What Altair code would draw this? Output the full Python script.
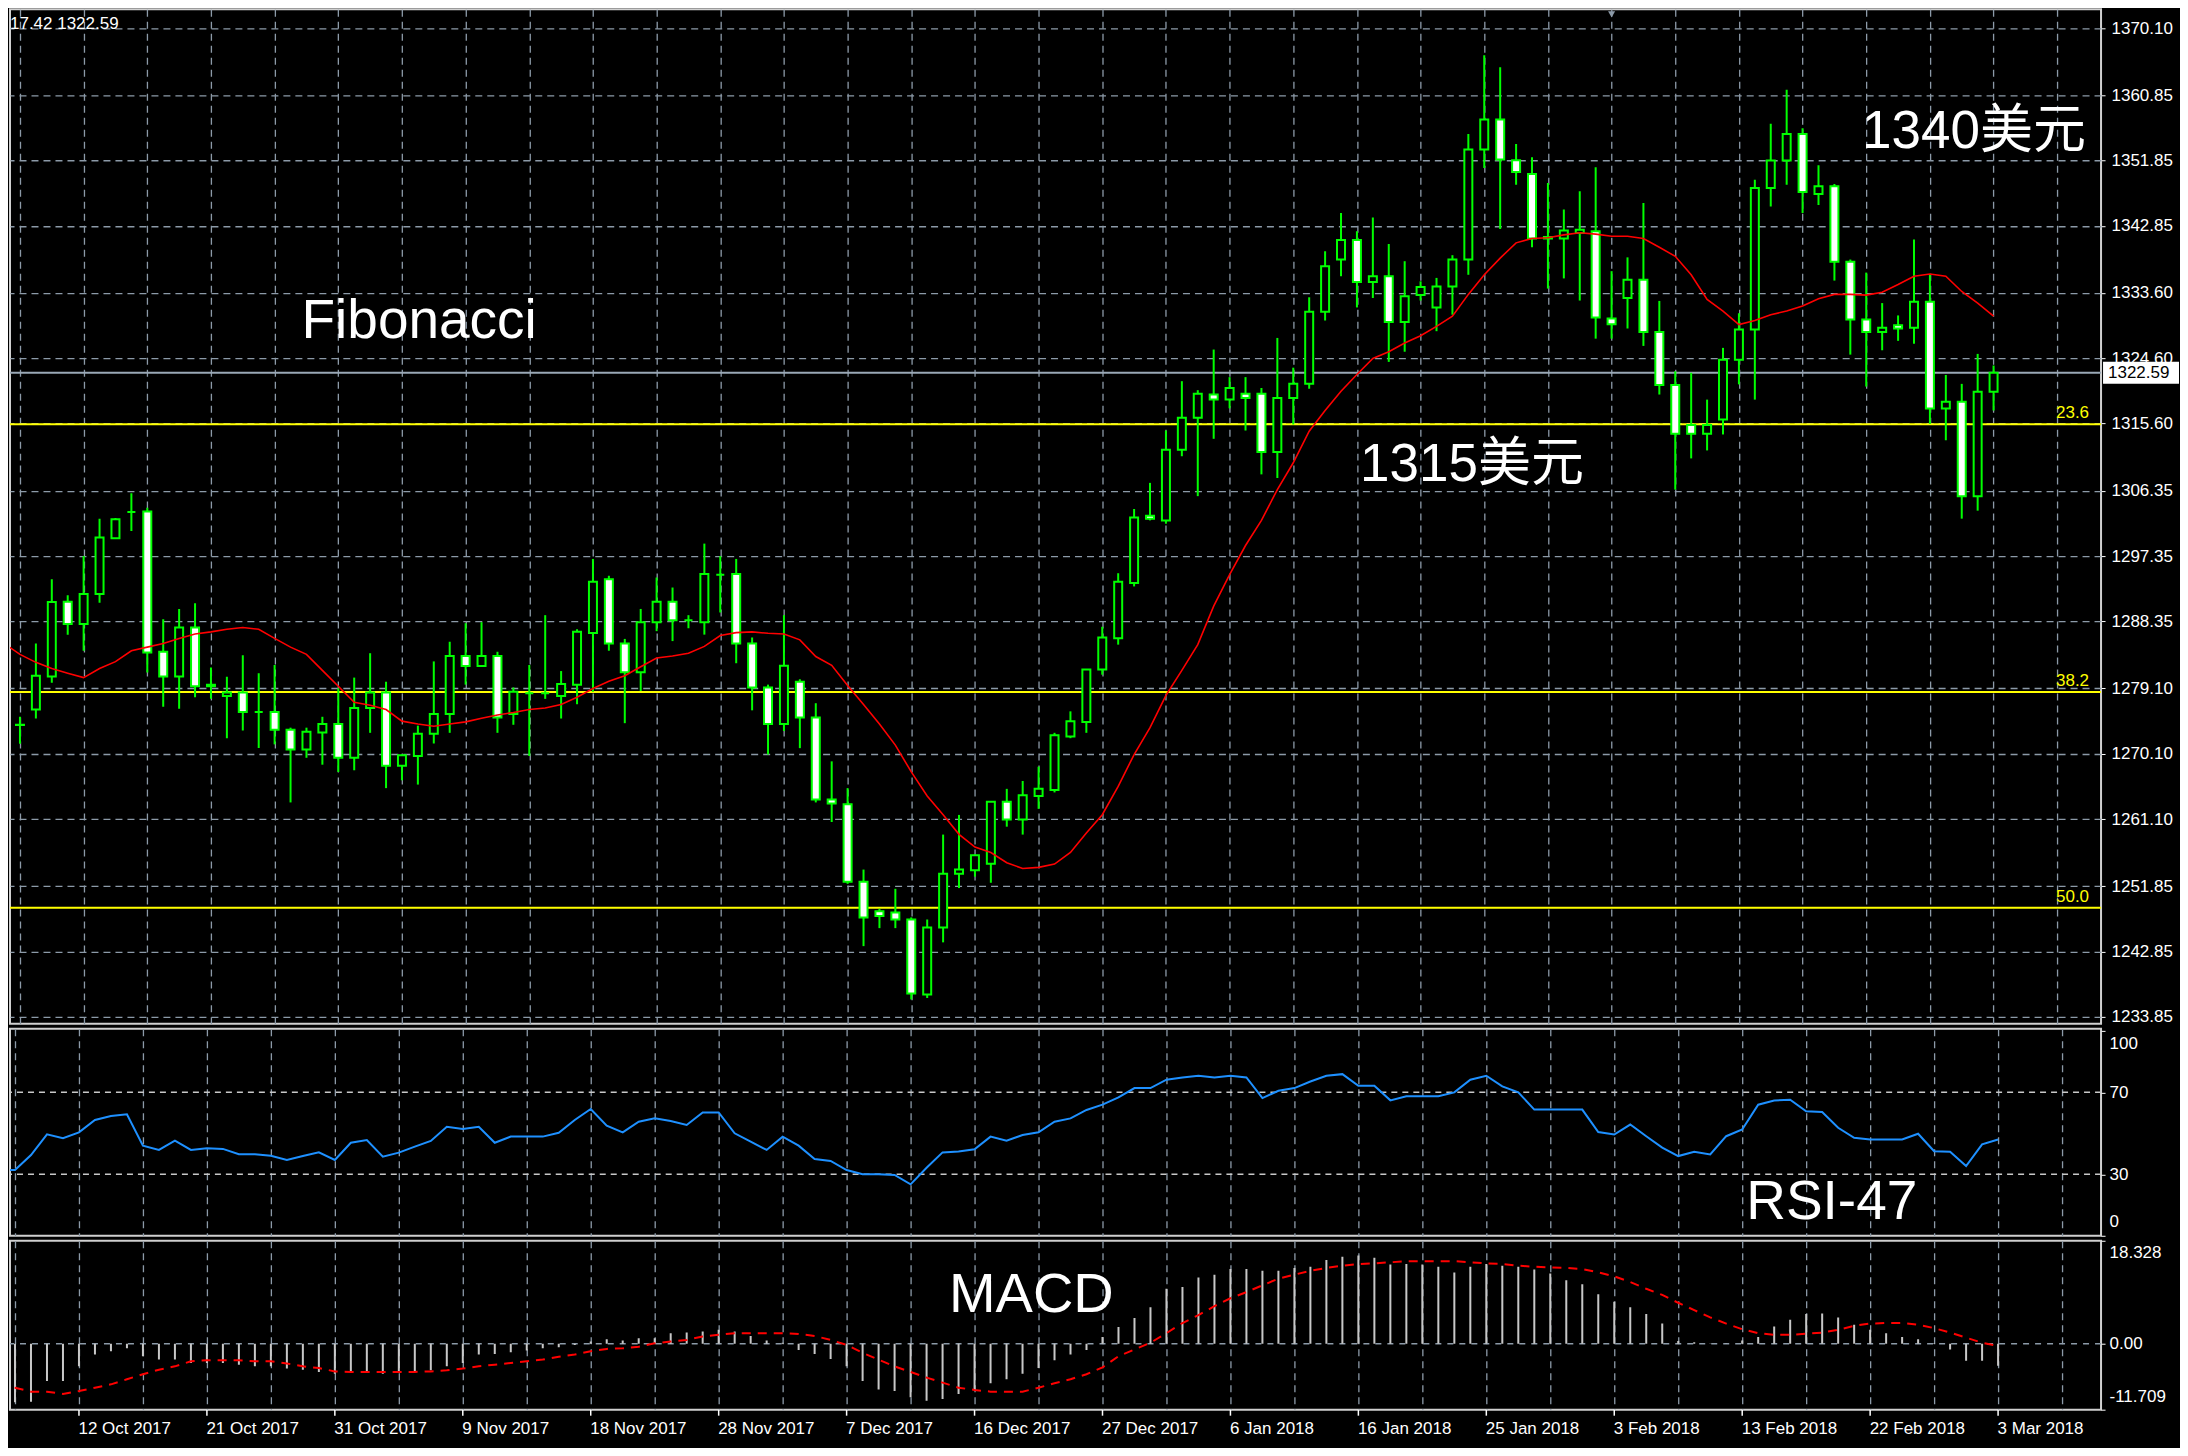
import json
import altair as alt
import pandas as pd

# ---------------- data ----------------
opens = [
    1274.07, 1276.2, 1280.76, 1291.04, 1288.0, 1292.13, 1299.8, 1303.4, 1303.5, 1284.16,
    1280.76, 1287.5, 1279.4, 1278.06, 1278.55, 1275.85, 1275.85, 1273.4, 1270.68, 1273.04,
    1274.2, 1269.55, 1276.4, 1278.55, 1268.47, 1269.8, 1272.85, 1275.6, 1283.57, 1282.2,
    1283.57, 1275.6, 1278.45, 1278.45, 1278.06, 1279.63, 1286.76, 1294.14, 1285.29, 1281.35,
    1288.24, 1291.04, 1288.49, 1288.24, 1294.78, 1294.88, 1285.29, 1279.24, 1274.22, 1280.03,
    1275.11, 1263.8, 1263.15, 1252.48, 1248.4, 1248.25, 1247.27, 1236.94, 1246.18, 1253.56,
    1254.05, 1254.94, 1263.5, 1261.04, 1264.29, 1265.12, 1272.5, 1274.47, 1281.7, 1286.03,
    1293.65, 1302.9, 1302.26, 1312.0, 1316.4, 1319.6, 1318.9, 1319.7, 1319.7, 1311.7,
    1319.14, 1321.07, 1331.0, 1338.2, 1340.9, 1335.1, 1335.9, 1329.6, 1333.3, 1331.6,
    1334.5, 1338.2, 1353.35, 1357.5, 1351.88, 1350.0, 1341.3, 1341.1, 1341.87, 1342.1,
    1330.07, 1332.9, 1335.4, 1328.2, 1320.9, 1315.4, 1314.2, 1316.16, 1324.4, 1328.55,
    1348.07, 1351.83, 1355.5, 1347.24, 1348.3, 1337.9, 1329.93, 1328.2, 1329.15, 1328.8,
    1332.37, 1317.67, 1318.6, 1305.6, 1319.97,
]
highs = [
    1275.2, 1285.3, 1294.14, 1291.93, 1297.34, 1302.5, 1302.6, 1306.0, 1304.0, 1288.63,
    1290.06, 1290.85, 1282.0, 1280.7, 1283.67, 1281.2, 1282.34, 1273.7, 1273.7, 1275.2,
    1279.14, 1280.6, 1283.96, 1280.03, 1270.0, 1273.98, 1282.83, 1285.54, 1288.09, 1288.24,
    1284.16, 1279.24, 1282.34, 1289.2, 1281.5, 1287.26, 1296.95, 1294.63, 1285.93, 1290.06,
    1294.39, 1293.01, 1289.2, 1299.06, 1297.34, 1296.95, 1286.13, 1279.63, 1289.2, 1280.37,
    1277.07, 1269.06, 1265.37, 1254.15, 1248.74, 1251.5, 1247.56, 1247.27, 1258.97, 1261.68,
    1256.2, 1263.5, 1265.27, 1266.35, 1268.32, 1272.99, 1275.95, 1281.7, 1287.6, 1294.98,
    1303.83, 1307.43, 1314.64, 1321.44, 1320.2, 1325.8, 1322.0, 1322.0, 1320.5, 1327.4,
    1323.3, 1333.0, 1339.35, 1344.6, 1342.1, 1344.0, 1340.35, 1337.97, 1335.2, 1335.67,
    1338.8, 1355.5, 1366.34, 1364.7, 1354.13, 1352.3, 1348.76, 1345.1, 1347.6, 1350.9,
    1336.6, 1338.5, 1346.0, 1332.5, 1322.8, 1322.6, 1318.9, 1326.03, 1330.8, 1349.2,
    1356.9, 1361.6, 1356.3, 1351.2, 1348.6, 1338.2, 1336.4, 1332.2, 1330.5, 1340.95,
    1336.1, 1322.3, 1321.07, 1325.2, 1323.6,
]
lows = [
    1271.5, 1274.96, 1279.9, 1286.52, 1284.3, 1290.9, 1299.7, 1300.8, 1281.3, 1276.58,
    1276.3, 1277.9, 1277.67, 1272.25, 1273.3, 1270.9, 1271.4, 1263.4, 1269.55, 1268.6,
    1267.6, 1267.83, 1272.99, 1265.37, 1266.45, 1265.86, 1271.52, 1272.99, 1279.63, 1282.1,
    1272.99, 1274.1, 1269.8, 1277.67, 1274.96, 1276.93, 1278.65, 1284.3, 1274.32, 1278.75,
    1287.0, 1285.63, 1287.4, 1286.52, 1289.57, 1282.58, 1276.09, 1270.0, 1273.24, 1270.88,
    1263.4, 1260.7, 1252.18, 1243.6, 1246.08, 1246.08, 1236.25, 1236.45, 1244.12, 1251.6,
    1253.17, 1252.33, 1260.06, 1258.97, 1262.52, 1264.78, 1272.25, 1272.99, 1281.0, 1285.14,
    1293.16, 1302.26, 1301.8, 1311.1, 1305.6, 1313.5, 1317.7, 1314.64, 1308.6, 1308.1,
    1315.47, 1320.4, 1329.8, 1335.9, 1331.6, 1332.9, 1324.1, 1325.5, 1332.55, 1328.33,
    1330.6, 1336.1, 1350.8, 1342.4, 1348.5, 1339.9, 1334.2, 1335.6, 1332.55, 1327.3,
    1327.3, 1328.7, 1326.3, 1319.6, 1306.5, 1310.8, 1311.9, 1314.1, 1321.0, 1318.9,
    1345.5, 1348.5, 1344.6, 1345.7, 1335.3, 1325.1, 1320.7, 1325.7, 1327.0, 1326.6,
    1315.56, 1313.3, 1302.5, 1303.6, 1317.4,
]
closes = [
    1274.1, 1280.86, 1291.0, 1288.0, 1292.13, 1299.9, 1302.4, 1303.4, 1284.06, 1280.76,
    1287.5, 1279.4, 1279.6, 1278.55, 1275.85, 1275.85, 1273.4, 1270.68, 1273.14, 1274.2,
    1269.55, 1276.4, 1278.55, 1268.47, 1269.9, 1272.85, 1275.6, 1283.57, 1282.2, 1283.57,
    1275.11, 1278.65, 1278.45, 1278.45, 1279.73, 1286.91, 1293.8, 1285.29, 1281.35, 1288.24,
    1291.04, 1288.49, 1288.49, 1294.88, 1294.78, 1285.29, 1279.24, 1274.22, 1282.24, 1275.11,
    1263.8, 1263.25, 1252.48, 1247.56, 1247.76, 1247.27, 1237.08, 1246.18, 1253.56, 1254.15,
    1256.12, 1263.5, 1261.04, 1264.39, 1265.27, 1272.65, 1274.57, 1281.7, 1286.13, 1293.8,
    1302.65, 1302.5, 1312.0, 1316.4, 1319.7, 1318.9, 1320.5, 1319.14, 1311.7, 1319.14,
    1321.07, 1331.0, 1337.28, 1340.9, 1335.1, 1335.9, 1329.6, 1333.15, 1334.4, 1334.5,
    1338.2, 1353.35, 1357.5, 1351.97, 1350.27, 1341.1, 1341.1, 1342.2, 1342.3, 1330.2,
    1329.3, 1335.4, 1328.2, 1320.9, 1314.2, 1314.2, 1315.4, 1324.4, 1328.55, 1348.07,
    1351.83, 1355.5, 1347.5, 1348.3, 1337.9, 1329.93, 1328.2, 1328.8, 1328.7, 1332.37,
    1317.67, 1318.6, 1305.6, 1319.97, 1322.59,
]
# indicator series start one bar before the first full candle (bar -1)
ma_values = [
    1285.3,
    1283.8, 1282.7, 1281.85, 1281.2, 1280.6, 1281.85, 1282.8, 1284.3, 1284.8, 1285.3,
    1286.0, 1286.6, 1286.9, 1287.26, 1287.5, 1287.26, 1286.0, 1284.8, 1283.8, 1281.6,
    1279.4, 1277.2, 1276.8, 1276.2, 1274.6, 1274.2, 1273.9, 1274.2, 1274.5, 1275.0,
    1275.45, 1275.8, 1276.2, 1276.4, 1276.9, 1277.9, 1279.1, 1280.1, 1280.86, 1282.1,
    1283.3, 1283.57, 1283.96, 1284.9, 1286.4, 1286.8, 1286.9, 1286.7, 1286.6, 1285.8,
    1283.5, 1282.3, 1279.5, 1276.9, 1274.2, 1271.3, 1267.6, 1264.3, 1261.7, 1259.0,
    1257.25, 1256.5, 1255.1, 1254.3, 1254.45, 1254.9, 1256.5, 1259.2, 1261.7, 1265.6,
    1270.0, 1273.7, 1278.16, 1281.6, 1285.14, 1290.45, 1294.8, 1298.8, 1302.26, 1306.5,
    1310.2, 1314.55, 1317.4, 1320.06, 1322.36, 1324.56, 1325.5, 1326.7, 1327.7, 1329.0,
    1330.4, 1333.4, 1336.1, 1338.4, 1340.5, 1341.1, 1341.2, 1341.6, 1341.9, 1341.7,
    1341.4, 1341.4, 1341.1, 1339.9, 1338.65, 1336.1, 1332.7, 1331.1, 1329.25, 1329.8,
    1330.6, 1331.1, 1331.8, 1332.8, 1333.4, 1333.4, 1333.3, 1333.7, 1334.75, 1335.9,
    1336.2, 1335.9, 1333.8, 1332.2, 1330.4,
]
rsi_values = [
    32.1,
    32.1, 39.4, 49.5, 47.6, 50.5, 56.5, 58.5, 59.3, 44.0, 41.9,
    46.4, 41.9, 42.7, 42.4, 39.8, 39.8, 39.1, 37.0, 38.9, 40.7,
    37.0, 45.4, 46.7, 38.6, 40.6, 43.5, 46.3, 53.2, 52.1, 53.2,
    45.4, 48.4, 48.4, 48.4, 50.3, 56.5, 61.9, 53.7, 50.5, 55.7,
    57.3, 56.0, 54.1, 60.2, 60.2, 50.0, 45.9, 41.9, 48.4, 44.0,
    37.5, 36.5, 32.1, 30.0, 30.0, 29.7, 25.1, 33.2, 40.7, 41.1,
    42.2, 48.4, 46.4, 49.2, 50.5, 55.7, 57.3, 61.4, 64.0, 67.6,
    72.1, 72.1, 76.2, 77.3, 78.1, 77.3, 78.1, 77.3, 67.2, 70.8,
    72.1, 75.3, 78.1, 78.9, 73.2, 73.2, 66.1, 68.1, 68.1, 68.1,
    70.0, 76.2, 78.1, 72.9, 70.0, 61.6, 61.6, 61.6, 61.6, 50.6,
    49.4, 54.3, 48.6, 43.0, 38.9, 41.0, 39.7, 48.6, 51.9, 64.0,
    66.0, 66.4, 60.8, 60.4, 52.7, 47.8, 47.0, 47.0, 47.0, 49.8,
    41.3, 41.0, 34.0, 44.6, 47.0,
]
macd_hist = [
    -10.0,
    -10.4, -10.3, -6.6, -6.6, -4.0, -1.9, -1.3, -0.8, -2.2, -2.8,
    -2.8, -3.4, -3.4, -3.4, -3.7, -4.0, -4.0, -4.4, -4.6, -5.0,
    -5.3, -5.1, -5.0, -5.3, -5.1, -5.0, -4.7, -4.0, -3.4, -1.9,
    -1.8, -1.5, -1.2, -0.8, -0.6, -0.2, 0.4, 0.8, 0.6, 1.0,
    1.0, 1.9, 2.0, 2.2, 2.5, 2.2, 1.4, 0.6, 0.2, -1.1,
    -1.8, -2.7, -4.0, -6.6, -8.1, -8.4, -9.5, -10.1, -9.8, -8.9,
    -8.2, -7.0, -6.3, -5.3, -4.3, -2.9, -1.9, -1.1, 1.2, 3.0,
    4.6, 6.5, 9.8, 10.1, 11.8, 12.3, 13.3, 13.3, 13.0, 13.0,
    13.5, 13.7, 14.9, 15.5, 15.7, 15.3, 14.1, 14.2, 14.1, 13.7,
    12.7, 13.7, 14.2, 13.9, 13.7, 13.2, 12.5, 11.3, 10.6, 8.8,
    7.5, 6.5, 5.3, 3.6, 0.5, 0.3, 0.05, 0.05, 0.6, 1.2,
    3.1, 4.3, 5.3, 5.4, 4.7, 3.4, 2.5, 1.9, 1.2, 0.8,
    0.1, -1.0, -3.0, -3.0, -3.9,
]
macd_signal = [
    -7.2,
    -7.8, -8.5, -8.5, -8.9, -8.4, -7.8, -7.2, -6.3, -5.4, -4.6,
    -4.0, -3.1, -2.9, -2.9, -2.9, -3.1, -3.1, -3.5, -4.0, -4.3,
    -4.9, -5.0, -5.0, -5.0, -5.0, -5.0, -4.9, -4.7, -4.4, -4.0,
    -3.7, -3.4, -3.1, -2.8, -2.3, -1.9, -1.3, -0.9, -0.8, -0.5,
    0.1, 0.4, 0.7, 1.3, 1.6, 1.9, 1.9, 1.9, 1.9, 1.75,
    1.4, 0.7, -0.2, -1.6, -2.8, -4.0, -5.0, -6.0, -6.9, -7.8,
    -8.2, -8.5, -8.5, -8.5, -7.8, -7.0, -6.3, -5.4, -4.2, -2.2,
    -1.0, 0.2, 1.9, 3.7, 5.1, 6.7, 8.1, 9.2, 10.4, 11.6,
    12.3, 13.0, 13.5, 13.9, 14.2, 14.3, 14.5, 14.7, 14.7, 14.7,
    14.7, 14.5, 14.3, 14.2, 13.9, 13.7, 13.6, 13.5, 13.3, 12.7,
    12.0, 11.0, 9.8, 8.7, 7.3, 6.0, 4.7, 3.6, 2.6, 1.9,
    1.6, 1.6, 1.8, 2.0, 2.5, 3.2, 3.6, 3.7, 3.7, 3.4,
    2.8, 2.0, 1.1, 0.2, -0.4,
]

price_ticks = [1370.10, 1360.85, 1351.85, 1342.85, 1333.60, 1324.60, 1315.60, 1306.35,
               1297.35, 1288.35, 1279.10, 1270.10, 1261.10, 1251.85, 1242.85, 1233.85]
rsi_ticks = [0, 30, 70, 100]
rsi_levels = [30, 70]
macd_ticks = [-11.709, 0, 18.328]
dates = ["12 Oct 2017", "21 Oct 2017", "31 Oct 2017", "9 Nov 2017", "18 Nov 2017",
         "28 Nov 2017", "7 Dec 2017", "16 Dec 2017", "27 Dec 2017", "6 Jan 2018",
         "16 Jan 2018", "25 Jan 2018", "3 Feb 2018", "13 Feb 2018", "22 Feb 2018",
         "3 Mar 2018"]
date_ticks = [4 + 8 * k for k in range(len(dates))]
fib_levels = [1315.5, 1278.6, 1248.9]
fib_names = ["23.6", "38.2", "50.0"]
last_price = 1322.59

# ---------------- tables ----------------
N = len(opens)
candles = pd.DataFrame({"i": list(range(N)), "open": opens, "high": highs,
                        "low": lows, "close": closes})
candles["fillc"] = ["#ffffff" if c < o else "#000000" for o, c in zip(opens, closes)]
ind = pd.DataFrame({"i": list(range(-1, N)), "ma": ma_values, "rsi": rsi_values,
                    "hist": macd_hist, "signal": macd_signal})
fib_df = pd.DataFrame({"level": fib_levels, "name": fib_names})

# ---------------- styles ----------------
GREEN = "#00ff00"
GRID = "#8c9aa8"
FONT = "Liberation Sans, Arial, sans-serif"
ANN_FONT = "Liberation Sans, 'Noto Sans CJK SC', sans-serif"
W = 2092
H_PRICE, H_RSI, H_MACD = 1015, 207, 169

xs = alt.Scale(domain=[-0.3125, 130.4375], nice=False, zero=False)
ps = alt.Scale(domain=[1232.89, 1372.675], nice=False, zero=False)
rs = alt.Scale(domain=[0, 101], nice=False, zero=False)
ms = alt.Scale(domain=[-11.709, 18.328], nice=False, zero=False)
grid_x = list(range(0, 131, 4))


def x_axis(labels):
    common = dict(values=grid_x, ticks=False, tickSize=0, domain=False, grid=True,
                  gridColor=GRID, gridDash=[7, 5], gridWidth=1.3, title=None)
    if labels:
        expr = ("datum.value % 8 == 4 ? " + json.dumps(dates)
                + "[(datum.value - 4) / 8] : ''")
        return alt.Axis(labelExpr=expr, labelAlign="left", labelOffset=-1,
                        labelPadding=11, labelFlush=False, labelOverlap=False, **common)
    return alt.Axis(labels=False, **common)


def ann(text, x, y, size, align="left", color="white", font=ANN_FONT):
    return alt.Chart(pd.DataFrame({"t": [text]})).mark_text(
        align=align, baseline="alphabetic", font=font, fontSize=size, color=color
    ).encode(x=alt.datum(x), y=alt.datum(y), text="t:N")


# ---------------- price panel ----------------
price_axis = alt.Axis(orient="right", values=price_ticks, format=".2f", grid=True,
                      gridColor=GRID, gridDash=[7, 5], gridWidth=1.3, domain=False,
                      tickSize=4, tickColor="white", labelPadding=6, labelFlush=False,
                      title=None)

fib_rules = alt.Chart(fib_df).mark_rule(color="#ffff00", strokeWidth=2).encode(
    y=alt.Y("level:Q", scale=ps, axis=price_axis, title=None))
price_line = alt.Chart(pd.DataFrame({"p": [last_price]})).mark_rule(
    color="#9aa8b6", strokeWidth=2).encode(y=alt.Y("p:Q", title=None))
wicks = alt.Chart(candles).mark_rule(color=GREEN, strokeWidth=2, clip=True).encode(
    x=alt.X("i:Q", scale=xs, axis=x_axis(False), title=None),
    y=alt.Y("low:Q", title=None), y2="high:Q")
bodies = alt.Chart(candles).mark_bar(size=8, stroke=GREEN, strokeWidth=2, clip=True).encode(
    x=alt.X("i:Q", title=None), y=alt.Y("open:Q", title=None), y2="close:Q",
    fill=alt.Fill("fillc:N", scale=None))
ma_line = alt.Chart(ind).mark_line(color="#ff0000", strokeWidth=1.6, clip=True).encode(
    x=alt.X("i:Q", title=None), y=alt.Y("ma:Q", title=None))
fib_text = alt.Chart(fib_df).mark_text(align="right", baseline="bottom", dy=-2,
                                       color="#ffff00", font=FONT, fontSize=17).encode(
    x=alt.datum(130.0), y=alt.Y("level:Q", title=None), text="name:N")
box = alt.Chart(pd.DataFrame({"p": [last_price]})).mark_rect(fill="white").encode(
    x=alt.value(W + 2), x2=alt.value(W + 78), y=alt.datum(1324.12), y2=alt.datum(1321.10))
box_text = alt.Chart(pd.DataFrame({"t": ["1322.59"]})).mark_text(
    color="black", font=FONT, fontSize=17, align="left", baseline="middle").encode(
    x=alt.value(W + 7), y=alt.datum(last_price), text="t:N")
info = alt.Chart(pd.DataFrame({"t": ["17.42 1322.59"]})).mark_text(
    color="white", font=FONT, fontSize=17, align="left", baseline="middle").encode(
    x=alt.value(0), y=alt.value(15), text="t:N")
tri = alt.Chart(pd.DataFrame({"k": [0]})).mark_point(
    shape="triangle-down", filled=True, size=50, color=GRID, opacity=1).encode(
    x=alt.datum(100), y=alt.value(5))

price = alt.layer(
    fib_rules, price_line, wicks, bodies, ma_line, fib_text,
    ann("Fibonacci", 17.69, 1327.41, 55),
    ann("1315美元", 84.2, 1307.67, 53),
    ann("1340美元", 115.74, 1353.57, 53),
    box, box_text, info, tri,
).properties(width=W, height=H_PRICE)

# ---------------- RSI panel ----------------
rsi_axis = alt.Axis(orient="right", values=rsi_ticks, format="d", grid=False, domain=False,
                    tickSize=4, tickColor="white", labelPadding=4, labelFlush=6,
                    labelFlushOffset=-5, title=None)
rsi_lv = alt.Chart(pd.DataFrame({"lv": rsi_levels})).mark_rule(
    color="#c8c8c8", strokeDash=[6, 5], strokeWidth=1.5).encode(
    y=alt.Y("lv:Q", scale=rs, axis=rsi_axis, title=None))
rsi_line = alt.Chart(ind).mark_line(color="#1e90ff", strokeWidth=2, clip=True).encode(
    x=alt.X("i:Q", scale=xs, axis=x_axis(False), title=None),
    y=alt.Y("rsi:Q", title=None))
rsi = alt.layer(rsi_lv, rsi_line, ann("RSI-47", 108.25, 8.15, 55)).properties(
    width=W, height=H_RSI)

# ---------------- MACD panel ----------------
macd_axis = alt.Axis(
    orient="right", values=macd_ticks,
    labelExpr="datum.value == 0 ? '0.00' : (datum.value < 0 ? '-' + format(-datum.value, '.3f') : format(datum.value, '.3f'))",
    grid=False, domain=False, tickSize=4, tickColor="white", labelPadding=4,
    labelFlush=5, labelFlushOffset=-4, title=None)
zero_line = alt.Chart(pd.DataFrame({"z": [0]})).mark_rule(
    color=GRID, strokeDash=[6, 6], strokeWidth=1.5).encode(
    y=alt.Y("z:Q", scale=ms, axis=macd_axis, title=None))
hist = alt.Chart(ind).mark_rule(color="#c8c8c8", strokeWidth=2, clip=True).encode(
    x=alt.X("i:Q", scale=xs, axis=x_axis(True), title=None),
    y=alt.Y("hist:Q", title=None), y2=alt.datum(0))
signal = alt.Chart(ind).mark_line(color="#ff0000", strokeDash=[9, 7], strokeWidth=2,
                                  clip=True).encode(
    x=alt.X("i:Q", title=None), y=alt.Y("signal:Q", title=None))
date_marks = alt.Chart(pd.DataFrame({"t": date_ticks})).mark_rule(
    color="white", strokeWidth=1.5).encode(
    x=alt.X("t:Q", title=None), y=alt.value(H_MACD), y2=alt.value(H_MACD + 6))
# black strip that extends the dark chart area below the date labels
bottom_edge = alt.Chart(pd.DataFrame({"k": [0]})).mark_rule(
    color="#000000", strokeWidth=1).encode(
    x=alt.value(0), x2=alt.value(W), y=alt.value(H_MACD + 36))
macd = alt.layer(zero_line, hist, signal, date_marks, bottom_edge,
                 ann("MACD", 58.4, 5.585, 56)).properties(width=W, height=H_MACD)

chart = alt.vconcat(price, rsi, macd, spacing=5, bounds="flush").properties(
    padding=0, background="#000000"
).configure_view(
    stroke="#d0d0d0", strokeWidth=2, fill="#000000"
).configure_axis(
    labelFont="Liberation Sans", labelFontSize=17, labelColor="white"
)

chart.save("out.html", embed_options={"renderer": "svg", "actions": False})
